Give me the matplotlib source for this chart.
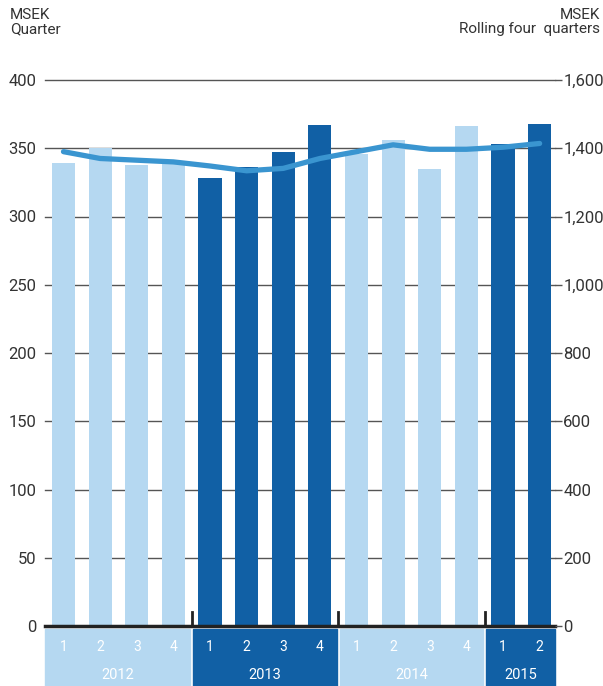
import matplotlib.pyplot as plt
import numpy as np

plt.rcParams['font.family'] = ['Roboto', 'DejaVu Sans']

# Quarterly values (MSEK) and rolling four quarters (MSEK)
years = ['2012', '2013', '2014', '2015']
quarters = ['1', '2', '3', '4', '1', '2', '3', '4', '1', '2', '3', '4', '1', '2']
quarter_year = [0, 0, 0, 0, 1, 1, 1, 1, 2, 2, 2, 2, 3, 3]
quarterly = [339, 350, 338, 341, 328, 336, 347, 367, 346, 356, 335, 366, 353, 368]
rolling = [1390, 1370, 1365, 1360, 1348, 1334, 1341, 1370, 1390, 1410, 1397, 1397, 1403, 1414]

light = '#b5d8f1'
dark = '#1160a5'
line_col = '#3a95d0'
text_col = '#333333'

fig = plt.figure(figsize=(6.03, 6.86), dpi=100)
ax = fig.add_axes([45 / 603, 60 / 686, 510 / 603, 546 / 686])

x = np.arange(len(quarterly))
colors = [light if quarter_year[i] % 2 == 0 else dark for i in x]
ax.bar(x, quarterly, width=0.63, color=colors, zorder=2)

ax.set_xlim(-0.505, 13.42)
ax.set_ylim(0, 400)
ax.set_yticks(np.arange(0, 401, 50))
for v in np.arange(50, 401, 50):
    ax.axhline(v, color='#555555', linewidth=1.0, zorder=1, clip_on=False)
ax.axhline(0, color='#222222', linewidth=2.5, zorder=3, clip_on=False)

for s in ax.spines.values():
    s.set_visible(False)
ax.set_xticks([])
ax.tick_params(axis='y', length=0, pad=6, labelsize=12, labelcolor=text_col)

# separators between years
for b in [3.5, 7.5, 11.5]:
    ax.plot([b, b], [0, 10.5], color='#222222', linewidth=2, zorder=3, clip_on=False)

# category band below axis
trans = ax.get_xaxis_transform()
starts = [-0.505, 3.54, 7.54, 11.54]
ends = [3.46, 7.46, 11.46, 13.42]
for k, yr in enumerate(years):
    c = light if k % 2 == 0 else dark
    ax.add_patch(plt.Rectangle((starts[k], -0.115), ends[k] - starts[k], 0.11,
                               transform=trans, color=c, clip_on=False, zorder=1))
    ax.text((starts[k] + ends[k]) / 2, -0.09, yr, transform=trans, ha='center',
            va='center', color='white', fontsize=10.5)
for i, q in enumerate(quarters):
    ax.text(i, -0.039, q, transform=trans, ha='center', va='center',
            color='white', fontsize=10)

ax2 = ax.twinx()
ax2.plot(x, rolling, color=line_col, linewidth=3.8, solid_capstyle='round', zorder=4)
ax2.set_ylim(0, 1600)
ax2.set_yticks(np.arange(0, 1601, 200))
ax2.set_yticklabels([f'{v:,}' for v in range(0, 1601, 200)])
for s in ax2.spines.values():
    s.set_visible(False)
ax2.tick_params(axis='y', length=5, width=1, color='#555555', pad=1,
                labelsize=12, labelcolor=text_col)

fig.text(10 / 603, 1 - 8 / 686, 'MSEK\nQuarter', ha='left', va='top',
         fontsize=11, color=text_col, linespacing=1.0)
fig.text(600 / 603, 1 - 8 / 686, 'MSEK\nRolling four  quarters', ha='right',
         va='top', fontsize=11, color=text_col, linespacing=1.0, multialignment='right')

fig.savefig('out.png', dpi=100)
